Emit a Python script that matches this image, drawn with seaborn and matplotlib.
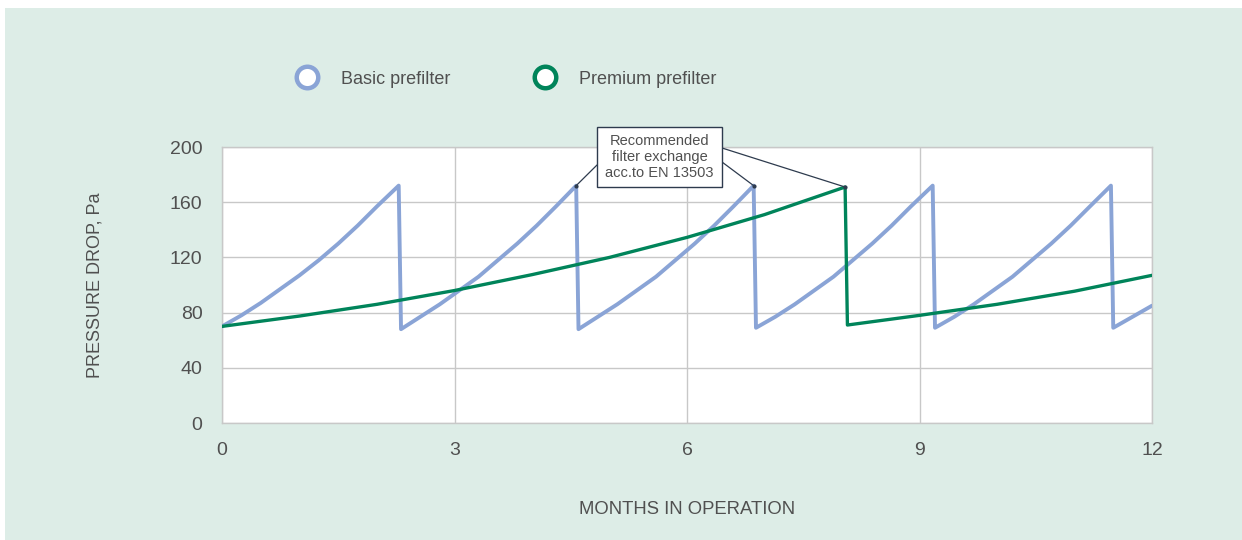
import matplotlib
matplotlib.use("Agg")
import matplotlib.pyplot as plt
import seaborn as sns
import pandas as pd
from matplotlib.lines import Line2D
from matplotlib.patches import Rectangle

# Basic prefilter: saw-tooth
basic_months = [0.00, 0.25, 0.50, 0.75, 1.00, 1.25, 1.50, 1.75, 2.00, 2.28,
                2.31, 2.56, 2.81, 3.06, 3.31, 3.56, 3.81, 4.06, 4.31, 4.57,
                4.60, 4.85, 5.10, 5.35, 5.60, 5.85, 6.10, 6.35, 6.60, 6.86,
                6.89, 7.14, 7.39, 7.64, 7.89, 8.14, 8.39, 8.64, 8.89, 9.17,
                9.20, 9.45, 9.70, 9.95, 10.20, 10.45, 10.70, 10.95, 11.20, 11.47,
                11.50, 11.75, 12.00]
basic_pa = [70, 78, 87, 97, 107, 118, 130, 143, 157, 172,
            68, 77, 86, 96, 106, 118, 130, 143, 157, 172,
            68, 77, 86, 96, 106, 118, 130, 143, 157, 172,
            69, 77, 86, 96, 106, 118, 130, 143, 157, 172,
            69, 77, 86, 96, 106, 118, 130, 143, 157, 172,
            69, 77, 85]

# Premium prefilter
premium_months = [0, 1, 2, 3, 4, 5, 6, 7, 8.04, 8.07, 9, 10, 11, 12]
premium_pa = [70, 77.5, 86, 96, 107.5, 120, 134.5, 151, 171, 71, 78, 86, 95.5, 107]

series_names = ["Basic prefilter", "Premium prefilter"]
x_ticks = [0, 3, 6, 9, 12]
y_ticks = [0, 40, 80, 120, 160, 200]
note_text = "Recommended\nfilter exchange\nacc.to EN 13503"
# peaks the call-out points to: (series, index of peak)
note_targets = [(0, 19), (0, 29), (1, 8)]

BLUE = "#8aa4d6"
GREEN = "#00845a"
MINT = "#ddede7"
GRID = "#c8c8c8"
TXT = "#505050"
NAVY = "#2e3b4e"

df = pd.concat([
    pd.DataFrame({"month": basic_months, "pa": basic_pa, "filter": series_names[0]}),
    pd.DataFrame({"month": premium_months, "pa": premium_pa, "filter": series_names[1]}),
], ignore_index=True)

sns.set_style("white")
plt.rcParams["font.family"] = ["Liberation Sans", "DejaVu Sans"]

fig = plt.figure(figsize=(12.42, 5.4), dpi=100, facecolor="white")
# mint panel behind everything
fig.patches.append(Rectangle((5 / 1242, 0), 1, 1 - 8 / 540, transform=fig.transFigure,
                             facecolor=MINT, edgecolor="none", zorder=-10))

ax = fig.add_axes([222 / 1242, 117 / 540, 930 / 1242, 276 / 540])
ax.set_facecolor("white")

sns.lineplot(data=df[df["filter"] == series_names[0]], x="month", y="pa",
             color=BLUE, linewidth=2.8, sort=False, estimator=None, ax=ax, zorder=3)
sns.lineplot(data=df[df["filter"] == series_names[1]], x="month", y="pa",
             color=GREEN, linewidth=2.4, sort=False, estimator=None, ax=ax, zorder=4)

ax.set_xlim(0, 12)
ax.set_ylim(0, 200)
ax.set_xticks(x_ticks)
ax.set_xticks(range(0, 13), minor=True)
ax.set_yticks(y_ticks)
ax.grid(True, which="major", color=GRID, linewidth=1)
ax.set_axisbelow(True)
for s in ax.spines.values():
    s.set_color(GRID)
    s.set_linewidth(1)
ax.tick_params(axis="x", which="both", direction="in", length=5, color=GRID,
               labelsize=14, labelcolor=TXT, pad=14, top=False)
ax.tick_params(axis="y", length=0, labelsize=14, labelcolor=TXT, pad=14)

ax.set_xlabel("MONTHS IN OPERATION", fontsize=13.3, color=TXT, labelpad=30)
ax.set_ylabel("PRESSURE DROP, Pa", fontsize=13, color=TXT, labelpad=48)

# call-out box
bx0, bx1 = (597 - 222) / 930, (722 - 222) / 930
by0, by1 = (423 - 187) / 276, (423 - 127) / 276
ax.add_patch(Rectangle((bx0, by0), bx1 - bx0, by1 - by0, transform=ax.transAxes,
                       facecolor="white", edgecolor=NAVY, linewidth=1,
                       clip_on=False, zorder=6))
ax.text((bx0 + bx1) / 2, (by0 + by1) / 2, note_text, transform=ax.transAxes,
        ha="center", va="center", fontsize=10.5, color=TXT, linespacing=1.15,
        zorder=7, clip_on=False)
starts = [(bx0, (423 - 165) / 276), (bx1, (423 - 162) / 276), (bx1, (423 - 148) / 276)]
for (sidx, i), st in zip(note_targets, starts):
    xs, ys = (basic_months, basic_pa) if sidx == 0 else (premium_months, premium_pa)
    ax.annotate("", xy=(xs[i], ys[i]), xycoords="data", xytext=st, textcoords="axes fraction",
                arrowprops=dict(arrowstyle="-", color=NAVY, lw=0.9,
                                shrinkA=0, shrinkB=0), zorder=5, annotation_clip=False)
    ax.plot(xs[i], ys[i], "o", color=NAVY, markersize=2, zorder=8, clip_on=False)

# legend, one entry at a time so each circle sits where it should
for name, c, x0 in zip(series_names, (BLUE, GREEN), (296, 534)):
    h = Line2D([], [], linestyle="none", marker="o", markersize=15.5,
               markerfacecolor="white", markeredgewidth=3.2, markeredgecolor=c)
    leg = fig.legend([h], [name], loc="center left",
                     bbox_to_anchor=(x0 / 1242, 1 - 79 / 540), frameon=False,
                     fontsize=13, handletextpad=1.3, handlelength=1.2,
                     borderaxespad=0, borderpad=0)
    for t in leg.get_texts():
        t.set_color(TXT)

fig.savefig("out.png", dpi=100, facecolor=fig.get_facecolor())
